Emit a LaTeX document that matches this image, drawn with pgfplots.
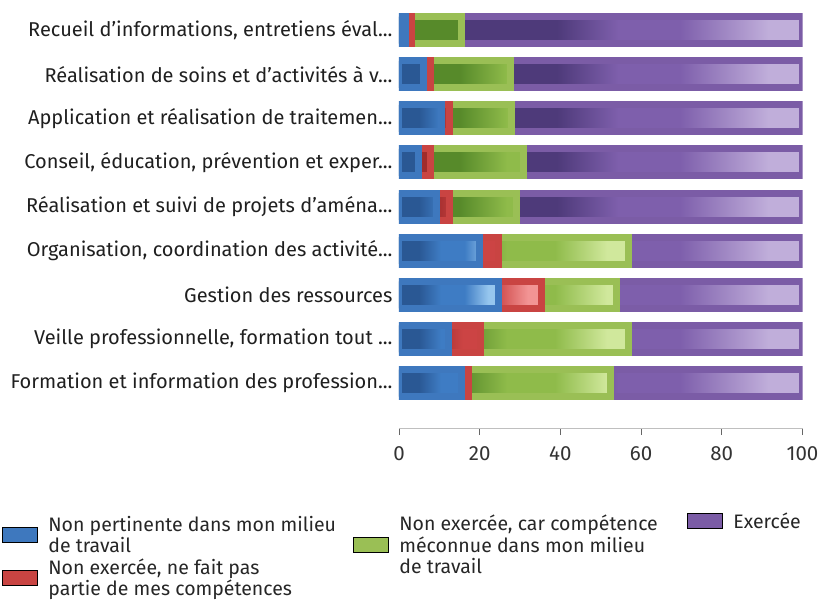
\documentclass[border=0pt]{standalone}
\usepackage{pgfplots}
\usepackage{pgfplotstable}
\pgfplotsset{compat=1.18}
\usepackage{fontspec}
\setmainfont{Fira Sans}
\protected\def\tdots{...}
\definecolor{blueF}{HTML}{3E78BE}
\definecolor{blueD}{HTML}{2A5894}
\definecolor{blueM}{HTML}{3E7CC4}
\definecolor{blueL}{HTML}{96C6EE}
\definecolor{redF}{HTML}{C94442}
\definecolor{redD}{HTML}{A02C2C}
\definecolor{redM}{HTML}{CC4444}
\definecolor{redL}{HTML}{F29494}
\definecolor{greenF}{HTML}{9ABF55}
\definecolor{greenD}{HTML}{578A2A}
\definecolor{greenM}{HTML}{8FBB4A}
\definecolor{greenL}{HTML}{D0E89C}
\definecolor{purpF}{HTML}{7B5CA6}
\definecolor{purpD}{HTML}{4E3A7A}
\definecolor{purpM}{HTML}{7E5FAC}
\definecolor{purpL}{HTML}{C0AEDA}
\pgfdeclarehorizontalshading{blueS}{100bp}{color(0bp)=(blueD); color(25bp)=(blueD); color(35bp)=(blueD); color(46bp)=(blueM); color(58bp)=(blueM); color(70bp)=(blueL); color(100bp)=(blueL)}
\pgfdeclarehorizontalshading{redS}{100bp}{color(0bp)=(redD); color(25bp)=(redD); color(35bp)=(redD); color(46bp)=(redM); color(58bp)=(redM); color(70bp)=(redL); color(100bp)=(redL)}
\pgfdeclarehorizontalshading{greenS}{100bp}{color(0bp)=(greenD); color(25bp)=(greenD); color(36bp)=(greenD); color(47bp)=(greenM); color(58bp)=(greenM); color(70bp)=(greenL); color(100bp)=(greenL)}
\pgfdeclarehorizontalshading{purpS}{100bp}{color(0bp)=(purpD); color(25bp)=(purpD); color(39bp)=(purpD); color(48bp)=(purpM); color(57bp)=(purpM); color(70bp)=(purpL); color(100bp)=(purpL)}
\pgfplotstableread{
idx blue red green purple
0 1.7 1.5 12.3 84.5
1 6.0 1.7 19.9 72.4
2 10.6 1.9 15.4 72.1
3 4.8 2.9 23.2 69.1
4 9.2 3.3 16.6 70.9
5 20.0 4.6 32.3 43.1
6 24.6 10.7 18.6 46.1
7 12.2 8.0 36.7 43.1
8 15.5 1.7 35.2 47.6
}\datatable
\pgfplotsset{
  every axis/.append style={font=\fontsize{20}{22}\selectfont},
  legbox/.style={
    hide axis, scale only axis, width=1pt, height=1pt,
    xmin=0, xmax=1, ymin=0, ymax=1,
    anchor=origin,
    legend cell align=left,
    legend style={at={(0,0)}, anchor=west, draw=none, fill=none,
      inner sep=0pt, outer sep=0pt, row sep=0pt, column sep=11pt,
      align=left, text=black!85, nodes={inner sep=0pt},
      font=\fontsize{19.5}{21.3}\selectfont},
    legend image code/.code={\fill[##1] (0pt,-7.5pt) rectangle (35pt,7.5pt);},
  },
}
\begin{document}
\begin{tikzpicture}
\useasboundingbox (0,0) rectangle (825pt,606pt);
\begin{axis}[
  at={(399pt,178pt)}, anchor=south west,
  scale only axis, width=403.5pt, height=424.3pt,
  xbar stacked, bar width=27pt,
  xmin=0, xmax=100, ymin=-0.6, ymax=9.02, y dir=reverse,
  xtick={0,20,40,60,80,100}, ytick={0,1,2,3,4,5,6,7,8},
  yticklabels={{Recueil d'informations, entretiens éval\tdots},
    {Réalisation de soins et d'activités à v\tdots},
    {Application et réalisation de traitemen\tdots},
    {Conseil, éducation, prévention et exper\tdots},
    {Réalisation et suivi de projets d'aména\tdots},
    {Organisation, coordination des activité\tdots},
    {Gestion des ressources},
    {Veille professionnelle, formation tout \tdots},
    {Formation et information des profession\tdots}},
  axis x line*=bottom, axis y line*=left,
  x axis line style={-, draw=black!25, line width=0.8pt},
  y axis line style={draw=none},
  xtick align=outside, major tick length=7pt,
  xtick style={draw=black!60, line width=0.9pt},
  ytick style={draw=none},
  xticklabel style={text=black!80, font=\fontsize{20.5}{24}\selectfont, yshift=-8pt},
  yticklabel style={text=black!88, xshift=-3pt},
  /pgf/number format/assume math mode=true,
]
\addplot[draw=blueF, line width=7pt, shade, shading=blueS] table[x=blue, y=idx]{\datatable};
\addplot[draw=redF, line width=7pt, shade, shading=redS] table[x=red, y=idx]{\datatable};
\addplot[draw=greenF, line width=7pt, shade, shading=greenS] table[x=green, y=idx]{\datatable};
\addplot[draw=purpF, line width=7pt, shade, shading=purpS] table[x=purple, y=idx]{\datatable};
\end{axis}
\begin{axis}[legbox, at={(2pt,71pt)}]
\addlegendimage{fill=blueF}
\addlegendentry{Non pertinente dans mon milieu\\de travail}
\end{axis}
\begin{axis}[legbox, at={(2pt,28pt)}]
\addlegendimage{fill=redF}
\addlegendentry{Non exercée, ne fait pas\\partie de mes compétences}
\end{axis}
\begin{axis}[legbox, at={(353pt,61pt)}]
\addlegendimage{fill=greenF}
\addlegendentry{Non exercée, car compétence\\méconnue dans mon milieu\\de travail}
\end{axis}
\begin{axis}[legbox, at={(687pt,85pt)}]
\addlegendimage{fill=purpF}
\addlegendentry{Exercée}
\end{axis}
\end{tikzpicture}
\end{document}
